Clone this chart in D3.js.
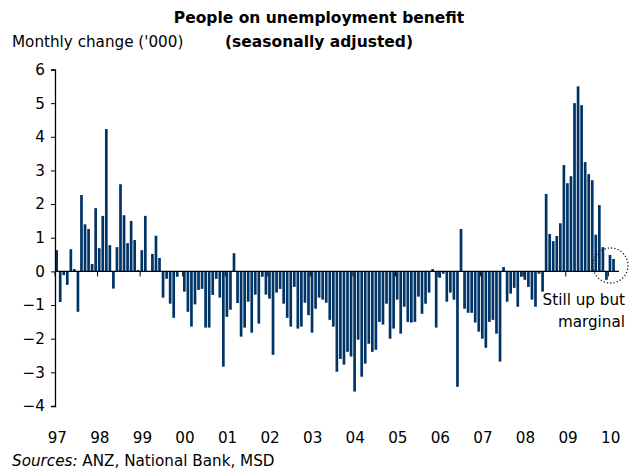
<!DOCTYPE html>
<html><head><meta charset="utf-8">
<script src="https://cdn.jsdelivr.net/npm/d3@7"></script>
<style>body{margin:0;background:#fff}svg{display:block}text{font-family:Verdana,"DejaVu Sans",sans-serif}</style>
</head><body>
<svg id="c" width="633" height="471"></svg>
<script>
const years = ["97","98","99","00","01","02","03","04","05","06","07","08","09","10"];
const v1997 = [0.63,-0.91,-0.11,-0.4,0.66,0.07,-1.2,2.27,1.4,1.26,0.22,1.88];
const v1998 = [0.69,1.65,4.23,0.78,-0.51,0.72,2.59,1.67,0.84,1.5,0.93,0.04];
const v1999 = [0.63,1.65,0,0.52,1.06,0.4,-0.78,-0.22,-0.96,-1.38,-0.16,0];
const v2000 = [-0.6,-1.2,-1.64,-0.98,-0.55,-0.52,-1.67,-1.67,-0.7,-0.22,-0.78,-2.83];
const v2001 = [-1.35,-1.14,0.54,-0.94,-1.94,-1.67,-0.9,-1.82,-0.69,-1.55,-0.16,-0.69];
const v2002 = [-0.81,-2.48,-0.63,-0.52,-0.96,-1.38,-1.64,-0.46,-1.7,-1.64,-0.93,-1.3];
const v2003 = [-1.82,-1.11,-0.78,-0.84,-0.93,-1.44,-1.64,-2.98,-2.6,-2.77,-2.39,-2.53];
const v2004 = [-3.57,-2.03,-3.13,-2.74,-2.15,-2.39,-2.33,-1.5,-1.58,-0.96,-2.0,-1.7];
const v2005 = [-0.84,-1.85,-1.05,-1.5,-1.52,-1.5,-0.75,-1.26,-0.96,-0.63,0.07,-1.67];
const v2006 = [-0.19,-0.07,-0.9,-0.63,-0.84,-3.43,1.26,-1.11,-1.23,-1.23,-1.52,-1.79];
const v2007 = [-2.0,-2.27,-1.5,-1.44,-1.85,-2.68,0.13,-0.9,-0.66,-0.49,-1.05,-0.16];
const v2008 = [-0.25,-0.46,-0.84,-1.05,-0.07,-0.6,2.3,1.11,0.9,1.05,1.43,3.16];
const v2009 = [2.62,2.83,5.0,5.5,4.94,3.25,2.89,2.71,1.09,1.97,0.72,-0.25];
const v2010 = [0.49,0.37];
const yTicks = [6,5,4,3,2,1,0,-1,-2,-3,-4];

const series = [v1997,v1998,v1999,v2000,v2001,v2002,v2003,v2004,v2005,v2006,v2007,v2008,v2009,v2010];
const data = [];
series.forEach((arr, yi) => arr.forEach((v, m) => data.push({year: years[yi], m, v, i: data.length})));

const FS = 15.2;
const svg = d3.select("#c");
const x = d3.scaleBand().domain(data.map(d => d.i)).range([55.3, 55.3 + data.length * 42.5 / 12]).paddingInner(0.24).paddingOuter(0);
const y = d3.scaleLinear().domain([-4, 6]).range([406, 69.5]);

// bars
svg.append("g").selectAll("rect").data(data).join("rect")
  .attr("x", d => x(d.i))
  .attr("width", x.bandwidth())
  .attr("y", d => y(Math.max(0, d.v)))
  .attr("height", d => Math.abs(y(d.v) - y(0)))
  .attr("fill", "#003366");

// y axis
const yAxis = d3.axisLeft(y).tickValues(yTicks).tickSize(4).tickPadding(6).tickFormat(d3.format("d"));
const gy = svg.append("g").attr("transform", "translate(55,0)").call(yAxis);
gy.select(".domain").attr("stroke", "#000").attr("stroke-width", 1.3);
gy.selectAll(".tick line").attr("stroke", "#000");
gy.selectAll(".tick text").attr("font-size", FS).attr("fill", "#000").attr("font-family", "Verdana,'DejaVu Sans',sans-serif");

// x axis at zero
const janIdx = data.filter(d => d.m === 0);
const gx = svg.append("g");
gx.append("line").attr("x1", 55).attr("x2", 619).attr("y1", y(0)).attr("y2", y(0)).attr("stroke", "#000").attr("stroke-width", 1.3);
gx.selectAll("line.t").data(janIdx).join("line").attr("class", "t")
  .attr("x1", d => x(d.i) - 0.3).attr("x2", d => x(d.i) - 0.3)
  .attr("y1", y(0)).attr("y2", y(0) + 5).attr("stroke", "#000");
gx.selectAll("text").data(janIdx).join("text")
  .attr("x", d => x(d.i) + 2).attr("y", 443)
  .attr("text-anchor", "middle").attr("font-size", FS).text(d => d.year);

// titles
svg.append("text").attr("x", 319).attr("y", 23).attr("text-anchor", "middle")
  .attr("font-size", 15.5).attr("font-weight", "bold").text("People on unemployment benefit");
svg.append("text").attr("x", 319).attr("y", 47).attr("text-anchor", "middle")
  .attr("font-size", 15.5).attr("font-weight", "bold").text("(seasonally adjusted)");
svg.append("text").attr("x", 12).attr("y", 47).attr("font-size", FS).text("Monthly change ('000)");

// annotation
svg.append("text").attr("x", 625).attr("y", 305).attr("text-anchor", "end").attr("font-size", FS).text("Still up but");
svg.append("text").attr("x", 625).attr("y", 327).attr("text-anchor", "end").attr("font-size", FS).text("marginal");
svg.append("circle").attr("cx", 610.5).attr("cy", 265.5).attr("r", 17.5)
  .attr("fill", "none").attr("stroke", "#222").attr("stroke-width", 1.3).attr("stroke-dasharray", "1.3,2");

// sources
const src = svg.append("text").attr("x", 12).attr("y", 466).attr("font-size", FS);
src.append("tspan").attr("font-style", "italic").text("Sources:");
src.append("tspan").text(" ANZ, National Bank, MSD");
</script>
</body></html>
